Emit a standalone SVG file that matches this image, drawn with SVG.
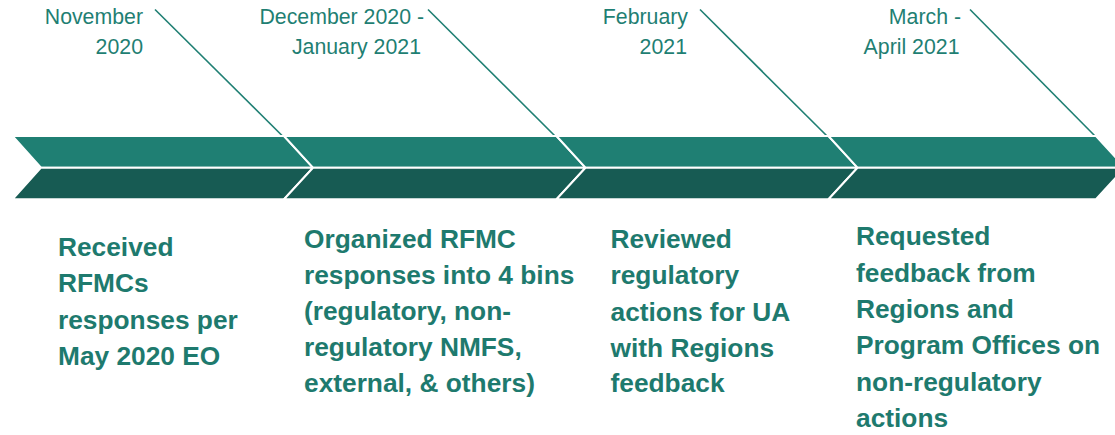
<svg xmlns="http://www.w3.org/2000/svg" width="1115" height="435" viewBox="0 0 1115 435">
<style>
.top{fill:#1F7F73;stroke:#fff;stroke-width:2;stroke-linejoin:miter}
.bot{fill:#175B53;stroke:#fff;stroke-width:2;stroke-linejoin:miter}
.lead{stroke:#1F7F73;stroke-width:1.6;fill:none}
.date{font-family:"Liberation Sans",Arial,sans-serif;font-size:21.3px;fill:#1F7F73;text-anchor:end}
.body{font-family:"Liberation Sans",Arial,sans-serif;font-size:26.3px;font-weight:bold;fill:#1E7A6E}
</style>
<rect width="1115" height="435" fill="#fff"/>
<g id="connectors">
<line class="lead" x1="155" y1="9.5" x2="283.5" y2="137"/>
<line class="lead" x1="428" y1="9.5" x2="556" y2="137"/>
<line class="lead" x1="700" y1="9.5" x2="828" y2="137"/>
<line class="lead" x1="970" y1="9.5" x2="1096" y2="137"/>
</g>
<g id="seg1">
<polygon class="top" points="12.5,136 284,136 313,167.7 41,167.7"/>
<polygon class="bot" points="41,167.7 313,167.7 284,199.3 12.5,199.3"/>
<text class="date" x="143" y="24">November</text>
<text class="date" x="143" y="54">2020</text>
<text class="body" x="58" y="255.5">Received</text>
<text class="body" x="58" y="292">RFMCs</text>
<text class="body" x="58" y="328.5">responses per</text>
<text class="body" x="58" y="365">May 2020 EO</text>
</g>
<g id="seg2">
<polygon class="top" points="284,136 556.5,136 585.5,167.7 313,167.7"/>
<polygon class="bot" points="313,167.7 585.5,167.7 556.5,199.3 284,199.3"/>
<text class="date" x="424" y="24">December 2020 -</text>
<text class="date" x="421" y="54">January 2021</text>
<text class="body" x="304" y="248.3">Organized RFMC</text>
<text class="body" x="304" y="284">responses into 4 bins</text>
<text class="body" x="304" y="320">(regulatory, non-</text>
<text class="body" x="304" y="356">regulatory NMFS,</text>
<text class="body" x="304" y="391.7">external, &amp; others)</text>
</g>
<g id="seg3">
<polygon class="top" points="556.5,136 828.5,136 857.5,167.7 585.5,167.7"/>
<polygon class="bot" points="585.5,167.7 857.5,167.7 828.5,199.3 556.5,199.3"/>
<text class="date" x="688" y="24">February</text>
<text class="date" x="687" y="54">2021</text>
<text class="body" x="610.5" y="248.3">Reviewed</text>
<text class="body" x="610.5" y="284">regulatory</text>
<text class="body" x="610.5" y="320.5">actions for UA</text>
<text class="body" x="610.5" y="356.5">with Regions</text>
<text class="body" x="610.5" y="391.7">feedback</text>
</g>
<g id="seg4">
<polygon class="top" points="828.5,136 1096,136 1125,167.7 857.5,167.7"/>
<polygon class="bot" points="857.5,167.7 1125,167.7 1096,199.3 828.5,199.3"/>
<text class="date" x="961" y="24">March -</text>
<text class="date" x="959.5" y="54">April 2021</text>
<text class="body" x="856" y="245">Requested</text>
<text class="body" x="856" y="281.5">feedback from</text>
<text class="body" x="856" y="317.8">Regions and</text>
<text class="body" x="856" y="354.2">Program Offices on</text>
<text class="body" x="856" y="390.6">non-regulatory</text>
<text class="body" x="856" y="426.8">actions</text>
</g>
</svg>
